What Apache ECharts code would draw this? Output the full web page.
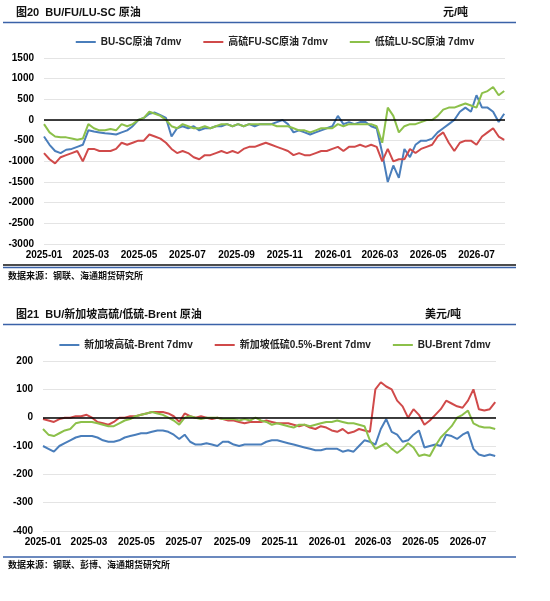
<!DOCTYPE html>
<html><head><meta charset="utf-8">
<script src="https://cdn.jsdelivr.net/npm/echarts@6/dist/echarts.min.js"></script>
<style>html,body{margin:0;padding:0;background:#fff}#c{width:550px;height:601px}</style>
</head><body><div id="c"></div>
<script>
// weekly observations, counted in days from 2025-01-01
var DAY = 86400000;
var T0 = Date.UTC(2025, 0, 1);
var weekDays = [];
for (var i = 0; i < 84; i++) weekDays.push(i * 7);

// tick labels: first day of every odd month
var tickLabels = ['2025-01','2025-03','2025-05','2025-07','2025-09','2025-11','2026-01','2026-03','2026-05','2026-07'];
var tickDays = tickLabels.map(function (s) {
  return Math.round((Date.UTC(+s.slice(0, 4), +s.slice(5, 7) - 1, 1) - T0) / DAY);
});

// 图20 元/吨
var buSC = [-400,-600,-750,-800, -720,-700,-650,-600, -250,-280,-300,-320,-330, -350,-300,-250,-150,
  0,50,150,180,120, 50,-400,-200,-150, -200,-150,-250,-200, -200,-150,-150,-100,-150, -100,-150,-100,-150,
  -100,-100,-100,-50, 0,-100,-300,-250,-300, -350,-300,-250,-200, -150,100,-100,-50,-100, -50,-50,-150,-200,
  -800,-1500,-1100,-1400, -700,-900,-600,-500, -500,-450,-300,-200,-100, 0,200,300,200, 600,300,300,200, -50,150];
var fuSC = [-800,-950,-1050,-900, -850,-800,-750,-1000, -700,-700,-750,-750,-750, -700,-550,-600,-550,
  -500,-500,-350,-400,-450, -550,-700,-800,-750, -800,-900,-950,-850, -850,-800,-750,-800,-750,
  -800,-700,-650,-650, -600,-550,-600,-650, -700,-750,-850,-800,-850, -850,-800,-750,-750,
  -700,-650,-750,-650,-650, -600,-650,-600,-650, -1000,-700,-1000,-950, -950,-700,-800,-700,
  -650,-600,-400,-300,-550, -750,-550,-500,-500, -600,-400,-300,-200, -400,-480];
var luSC = [-100,-300,-400,-420, -420,-450,-480,-450, -100,-200,-250,-250,-220, -250,-100,-150,-100,
  0,50,200,150,100, 0,-150,-200,-100, -150,-200,-200,-150, -200,-150,-100,-100,-150, -100,-150,-100,-100,
  -100,-100,-100,-150, -150,-150,-200,-250,-250, -300,-250,-200,-200, -200,-100,-150,-100,-100,
  -100,-100,-100,-150, -550,300,100,-300, -150,-100,-100,-50, 0,0,100,250,300, 300,350,400,350,
  300,650,700,800, 600,700];

// 图21 美元/吨
var hsfo = [-100,-110,-120,-100, -90,-80,-70,-65, -65,-65,-70,-80,-85, -85,-80,-70,-65, -60,-55,-55,-50,-45,
  -45,-50,-60,-75, -60,-85,-95,-95, -90,-95,-100,-85,-85, -95,-100,-95,-95, -95,-95,-85,-80,
  -80,-85,-90,-95,-100, -105,-110,-115,-115, -110,-110,-110,-120,-115, -120,-100,-80,-85,
  -95,-40,-5,-50, -60,-85,-80,-60, -45,-105,-100,-95,-100, -60,-65,-75,-60, -50,-110,-130,-135, -130,-135];
var lsfo = [-5,-10,-15,-5, 0,0,5,5, 10,0,-15,-20,-25, -15,0,0,5, 5,10,15,20,20, 20,15,5,-15, 15,5,0,5,
  0,-5,0,-5,-10, -10,-15,-20,-15, -15,-15,-10,-15, -20,-20,-20,-25,-30, -25,-35,-40,-30,
  -35,-45,-50,-40,-55, -50,-40,-45,-50, 100,125,110,100, 60,40,0,30, 10,-25,-10,10,30,
  60,50,40,35, 60,100,30,25, 30,55];
var buBrent = [-40,-60,-65,-55, -45,-40,-20,-15, -15,-15,-20,-25,-30, -30,-20,-10,-5, 5,10,15,20,15,
  10,0,-10,-25, 0,5,0,-5, 0,0,0,-5,-5, -5,-10,-5,-10, 0,-10,-15,-25, -20,-25,-30,-35,-25,
  -25,-30,-25,-20, -15,-15,-10,-15,-20, -20,-25,-30,-80, -110,-100,-90,-110, -125,-110,-90,-105,
  -135,-130,-135,-100,-70, -50,-30,0,10, 25,-20,-30,-35, -35,-40];

var BLUE = '#4a7ebb', RED = '#d04a4a', GREEN = '#8cc04a', RULE = '#3a62a8';
var F = 'Arial, "Noto Sans CJK SC", sans-serif';

function label(day) {
  var i = tickDays.indexOf(Math.round(day));
  return i < 0 ? '' : tickLabels[i];
}
function xAxis(gi) {
  return {
    type: 'value', gridIndex: gi, min: 0, max: 582,
    axisLine: { show: false }, axisTick: { show: false }, splitLine: { show: false },
    axisLabel: {
      customValues: tickDays, formatter: label, showMinLabel: true, showMaxLabel: true, hideOverlap: false,
      color: '#000', fontWeight: 'bold', fontSize: 10, fontFamily: F, margin: 6
    }
  };
}
function yAxis(gi, min, max, step) {
  return {
    type: 'value', gridIndex: gi, min: min, max: max, interval: step,
    axisLine: { show: false }, axisTick: { show: false },
    axisLabel: { color: '#000', fontWeight: 'bold', fontSize: 10, fontFamily: F, margin: 10,
      formatter: function (v) { return String(v); } },
    splitLine: { lineStyle: { color: '#e4e4e4' } }
  };
}
function pairs(vals) {
  return vals.map(function (v, i) { return [weekDays[i], v]; });
}
function line(name, data, color, gi, zero) {
  var s = {
    name: name, type: 'line', data: pairs(data), xAxisIndex: gi, yAxisIndex: gi,
    symbol: 'none', lineStyle: { color: color, width: 2 }, itemStyle: { color: color }
  };
  if (zero) s.markLine = { silent: true, symbol: 'none', label: { show: false },
    lineStyle: { color: '#000', width: 1.5, type: 'solid' }, data: [{ yAxis: 0 }] };
  return s;
}
function txt(x, y, t, size) {
  return { type: 'text', left: x, top: y, style: { text: t, fill: '#111', font: 'bold ' + size + 'px ' + F } };
}
function rule(y, color, w) {
  return { type: 'line', shape: { x1: 3, y1: y, x2: 516, y2: y }, style: { stroke: color, lineWidth: w } };
}

var chart = echarts.init(document.getElementById('c'));
chart.setOption({
  animation: false,
  textStyle: { fontFamily: F },
  grid: [
    { left: 44, right: 45, top: 58, height: 186 },
    { left: 43, right: 54, top: 361, height: 170 }
  ],
  legend: [
    { top: 32, left: 'center', itemWidth: 20, itemHeight: 2, itemGap: 22, icon: 'rect',
      data: ['BU-SC原油 7dmv', '高硫FU-SC原油 7dmv', '低硫LU-SC原油 7dmv'],
      textStyle: { fontSize: 10, fontWeight: 'bold', color: '#222' } },
    { top: 335, left: 'center', itemWidth: 20, itemHeight: 2, itemGap: 22, icon: 'rect',
      data: ['新加坡高硫-Brent 7dmv', '新加坡低硫0.5%-Brent 7dmv', 'BU-Brent 7dmv'],
      textStyle: { fontSize: 10, fontWeight: 'bold', color: '#222' } }
  ],
  xAxis: [xAxis(0), xAxis(1)],
  yAxis: [yAxis(0, -3000, 1500, 500), yAxis(1, -400, 200, 100)],
  series: [
    line('BU-SC原油 7dmv', buSC, BLUE, 0, true),
    line('高硫FU-SC原油 7dmv', fuSC, RED, 0),
    line('低硫LU-SC原油 7dmv', luSC, GREEN, 0),
    line('新加坡高硫-Brent 7dmv', hsfo, BLUE, 1, true),
    line('新加坡低硫0.5%-Brent 7dmv', lsfo, RED, 1),
    line('BU-Brent 7dmv', buBrent, GREEN, 1)
  ],
  graphic: [
    txt(16, 7, '图20  BU/FU/LU-SC 原油', 11),
    txt(443, 7, '元/吨', 11),
    rule(22.5, RULE, 1.5),
    rule(265, '#111', 1.5),
    rule(267.5, RULE, 1.5),
    txt(8, 272, '数据来源：钢联、海通期货研究所', 9),
    txt(16, 309, '图21  BU/新加坡高硫/低硫-Brent 原油', 11),
    txt(425, 309, '美元/吨', 11),
    rule(324.5, RULE, 1.5),
    rule(557, RULE, 1.5),
    txt(8, 561, '数据来源：钢联、彭博、海通期货研究所', 9)
  ]
});
</script></body></html>
